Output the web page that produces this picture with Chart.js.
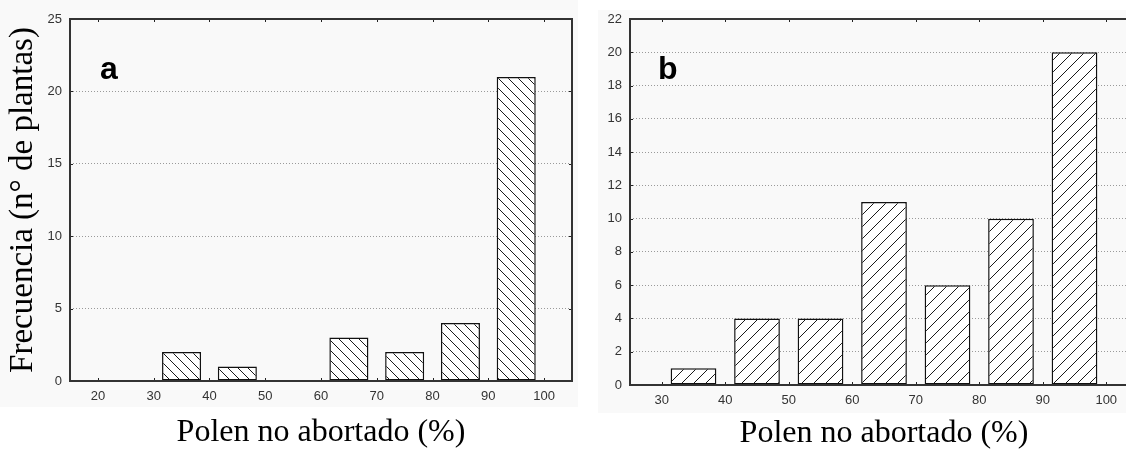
<!DOCTYPE html>
<html>
<head>
<meta charset="utf-8">
<script src="https://cdn.jsdelivr.net/npm/chart.js@4.4.1/dist/chart.umd.min.js"></script>
<style>
html, body { margin: 0; padding: 0; background: #fff; overflow: hidden; width: 1126px; height: 451px; }
#bgA { position: absolute; left: 0; top: 0; width: 578px; height: 407px; background: #f9f9f9; }
#bgB { position: absolute; left: 598px; top: 10px; width: 528px; height: 403px; background: #f9f9f9; }
#chartA { position: absolute; left: 0; top: 0; }
#chartB { position: absolute; left: 585px; top: 0; }
</style>
</head>
<body>
<div id="bgA"></div>
<div id="bgB"></div>
<canvas id="chartA" width="580" height="451"></canvas>
<canvas id="chartB" width="560" height="451"></canvas>
<script>
'use strict';
// panel a
var binsA = [35, 45, 65, 75, 85, 95];
var countsA = [2, 1, 3, 2, 4, 21];
var xTicksA = [20, 30, 40, 50, 60, 70, 80, 90, 100];
var yTicksA = [0, 5, 10, 15, 20, 25];
// panel b
var binsB = [35, 45, 55, 65, 75, 85, 95];
var countsB = [1, 4, 4, 11, 6, 10, 20];
var xTicksB = [30, 40, 50, 60, 70, 80, 90, 100];
var yTicksB = [0, 2, 4, 6, 8, 10, 12, 14, 16, 18, 20, 22];

var xTitle = 'Polen no abortado (%)';
var yTitle = 'Frecuencia (n\u00b0 de plantas)';

function makeHatch(size, forward) {
	var c = document.createElement('canvas');
	c.width = size;
	c.height = size;
	var g = c.getContext('2d');
	g.fillStyle = '#fff';
	g.fillRect(0, 0, size, size);
	g.strokeStyle = '#1a1a1a';
	g.lineWidth = 1;
	g.beginPath();
	var h = size / 2;
	if (forward) {
		g.moveTo(0, size); g.lineTo(size, 0);
		g.moveTo(-h, h); g.lineTo(h, -h);
		g.moveTo(h, size + h); g.lineTo(size + h, h);
	} else {
		g.moveTo(0, 0); g.lineTo(size, size);
		g.moveTo(-h, h); g.lineTo(h, size + h);
		g.moveTo(h, -h); g.lineTo(size + h, h);
	}
	g.stroke();
	return g.createPattern(c, 'repeat');
}

// frame round the plot area, with short inward ticks on all four sides
var framePlugin = {
	id: 'frame',
	afterDraw: function (chart) {
		var a = chart.chartArea;
		var g = chart.ctx;
		var xs = chart.scales.x, ys = chart.scales.y;
		g.save();
		g.strokeStyle = '#222';
		g.lineWidth = 1;
		g.beginPath();
		xs.ticks.forEach(function (t) {
			var px = Math.round(xs.getPixelForValue(t.value)) + 0.5;
			g.moveTo(px, a.bottom); g.lineTo(px, a.bottom - 3);
			g.moveTo(px, a.top); g.lineTo(px, a.top + 3);
		});
		ys.ticks.forEach(function (t) {
			var py = Math.round(ys.getPixelForValue(t.value)) + 0.5;
			g.moveTo(a.left, py); g.lineTo(a.left + 3, py);
			g.moveTo(a.right, py); g.lineTo(a.right - 3, py);
		});
		g.stroke();
		g.lineWidth = 2;
		g.strokeStyle = '#333';
		g.strokeRect(a.left, a.top, a.right - a.left, a.bottom - a.top);
		var lab = chart.options.plugins.frame.label;
		g.fillStyle = '#000';
		g.font = 'bold 32px "Liberation Sans", Arial, sans-serif';
		g.textBaseline = 'alphabetic';
		g.fillText(lab, a.left + chart.options.plugins.frame.dx, a.top + 60);
		g.restore();
	}
};

function panelConfig(bins, counts, xTicks, yTicks, opt) {
	var points = [];
	for (var i = 0; i < bins.length; i++) {
		points.push({ x: bins[i], y: counts[i] });
	}
	var tickFont = { family: '"Liberation Sans", Arial, sans-serif', size: 13 };
	var serif = '"Liberation Serif", "Times New Roman", serif';
	return {
		type: 'bar',
		data: {
			datasets: [{
				data: points,
				backgroundColor: makeHatch(opt.hatch, opt.forward),
				borderColor: '#111',
				borderWidth: 1.5,
				borderSkipped: false,
				categoryPercentage: 1,
				barPercentage: opt.barPct
			}]
		},
		options: {
			responsive: false,
			animation: false,
			layout: { padding: opt.padding },
			plugins: {
				legend: { display: false },
				tooltip: { enabled: false },
				frame: { label: opt.label, dx: opt.labelDx }
			},
			scales: {
				x: {
					type: 'linear',
					offset: false,
					min: opt.xMin,
					max: opt.xMax,
					afterBuildTicks: function (s) {
						s.ticks = xTicks.map(function (v) { return { value: v }; });
					},
					afterFit: function (s) { s.height = opt.xHeight; },
					grid: { display: false, drawTicks: false, offset: false },
					border: { display: false },
					ticks: { font: tickFont, color: '#333', padding: 8, maxRotation: 0, autoSkip: false },
					title: { display: true, text: xTitle, font: { family: serif, size: 32, lineHeight: 1 }, color: '#000', padding: { top: 0, bottom: 0 } }
				},
				y: {
					min: 0,
					max: yTicks[yTicks.length - 1],
					afterBuildTicks: function (s) {
						s.ticks = yTicks.map(function (v) { return { value: v }; });
					},
					afterFit: function (s) { s.width = opt.yWidth; },
					grid: { color: '#9a9a9a', lineWidth: 1, drawTicks: false },
					border: { display: false, dash: [1, 2] },
					ticks: { font: tickFont, color: '#333', padding: 8, autoSkip: false },
					title: { display: opt.yTitle, text: yTitle, font: { family: serif, size: 33, lineHeight: 1.2 }, color: '#000', padding: { top: 4, bottom: 0 } }
				}
			}
		},
		plugins: [framePlugin]
	};
}

new Chart(document.getElementById('chartA'), panelConfig(binsA, countsA, xTicksA, yTicksA, {
	hatch: 10, forward: false, barPct: 0.7,
	xMin: 15, xMax: 105, yWidth: 70, xHeight: 68, yTitle: true,
	padding: { top: 19, right: 8, bottom: 2, left: 0 },
	label: 'a', labelDx: 30
}));

new Chart(document.getElementById('chartB'), panelConfig(binsB, countsB, xTicksB, yTicksB, {
	hatch: 12, forward: true, barPct: 0.72,
	xMin: 25, xMax: 105, yWidth: 45, xHeight: 65, yTitle: false,
	padding: { top: 19, right: 7, bottom: 1, left: 0 },
	label: 'b', labelDx: 28
}));
</script>
</body>
</html>
